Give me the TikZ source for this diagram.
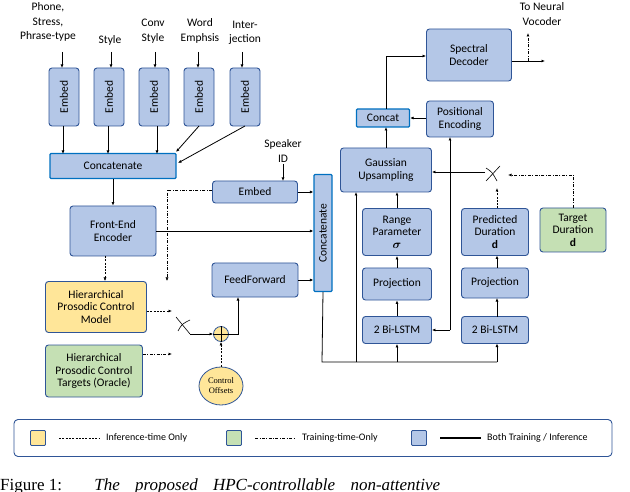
\documentclass[tikz,border=0pt]{standalone}
\usepackage{amsmath}
\usepackage{fontspec}
\setmainfont{Carlito}
\newfontfamily\capfont{Liberation Serif}
\usetikzlibrary{arrows.meta,shapes.geometric}
\definecolor{bfill}{HTML}{B4C7E7}
\definecolor{bdraw}{HTML}{2F5597}
\definecolor{cdraw}{HTML}{0070C0}
\definecolor{yfill}{HTML}{FFE699}
\definecolor{gfill}{HTML}{C5E0B4}
\begin{document}
\begin{tikzpicture}[x=1pt,y=-1pt,
  box/.style={draw=bdraw,fill=bfill,line width=0.9pt,rounded corners=3pt,align=center,inner sep=1pt,font=\fontsize{11.5}{12.5}\selectfont},
  cbox/.style={box,draw=cdraw,line width=1.2pt,rounded corners=1pt},
  ybox/.style={box,fill=yfill},
  gbox/.style={box,fill=gfill},
  lbl/.style={align=center,font=\fontsize{11.5}{14.5}\selectfont,inner sep=0pt},
  a/.style={-{Latex[length=3.5pt,width=3pt]},line width=0.8pt},
  inf/.style={a,dash pattern=on 2pt off 1.3pt},
  trn/.style={a,dash pattern=on 3pt off 1.5pt on 0.8pt off 1.5pt}]
\useasboundingbox (0,0) rectangle (630,492);
% top labels
\node[lbl] (t1) at (48,22) {Phone,\\Stress,\\Phrase-type};
\node[lbl] (t2) at (110,40) {Style};
\node[lbl] (t3) at (153,31) {Conv\\Style};
\node[lbl] (t4) at (200,31) {Word\\Emphsis};
\node[lbl] (t5) at (245,33) {Inter-\\jection};
\foreach \i/\x in {1/64,2/109,3/154,4/199,5/245}{
  \node[box,minimum width=58pt,minimum height=30pt,rotate=90] (e\i) at (\x,97) {Embed};
}
\foreach \i/\x in {1/62,2/111,3/155,4/198,5/242}{
  \draw[a] (\x,52) -- (\x,68);
}
\node[cbox,minimum width=126pt,minimum height=25pt] (cat) at (113,166) {Concatenate};
\draw[a] (63,126) -- (63,154);
\draw[a] (108,126) -- (108,154);
\draw[a] (157,126) -- (157,154);
\draw[a] (199,126) -- (176,152);
\draw[a] (245,126) -- (178,163);
\node[lbl] (spk) at (283,151) {Speaker\\ID};
\node[box,minimum width=85pt,minimum height=22pt] (emb) at (255,192) {Embed};
\draw[a] (283,164) -- (283,181);
\node[box,minimum width=86pt,minimum height=50pt] (fe) at (113,231) {Front-End\\Encoder};
\draw[a] (cat) -- (fe);
\node[cbox,minimum width=117pt,minimum height=18pt,rotate=90] (vc) at (323,233) {Concatenate};
\draw[a] (emb.east) -- (emb.east -| vc.north);
\draw[a] (fe.east) -- (fe.east -| vc.north);
\node[ybox,minimum width=101pt,minimum height=51pt] (hm) at (96,307) {Hierarchical\\Prosodic Control\\Model};
\node[gbox,minimum width=97pt,minimum height=52pt] (ht) at (94,371) {Hierarchical\\Prosodic Control\\Targets (Oracle)};
\draw[inf,line width=0.5pt] (105,256) -- (105,281);
\draw[trn,line width=0.5pt] (emb.west |- 0,190) -- (167,190) -- (167,281);
\coordinate (s1) at (172,311);
\coordinate (s2) at (172,354);
\draw[inf] (hm.east |- s1) -- (s1);
\draw[trn] (ht.east |- s2) -- (s2);
% switch left
\draw[line width=0.6pt] (176,317) -- (190,334);
\draw[line width=0.6pt] (190,320) .. controls (182,324) .. (178,331);
\node[draw=bdraw,fill=yfill,circle,minimum size=15pt,inner sep=0pt,line width=0.8pt] (plus) at (221,334) {};
\draw[line width=0.7pt] (plus.north) -- (plus.south) (plus.west) -- (plus.east);
\draw[a] (190,334) -- (plus.west);
\node[ellipse,draw=bdraw,fill=yfill,minimum width=44pt,minimum height=38pt,inner sep=0pt,align=center,line width=0.8pt,font=\capfont\fontsize{8.5}{10}\selectfont] (co) at (221,386) {Control\\Offsets};
\draw[inf] (co.north) -- (plus.south);
\node[box,minimum width=86pt,minimum height=34pt] (ff) at (255,280) {FeedForward};
\draw[a] (plus.east) -- (238,334) -- (238,297);
\draw[a] (ff.east) -- (ff.east -| vc.north);
% right side
\node[box,minimum width=69pt,minimum height=27pt] (bl1) at (397,330) {2 Bi-LSTM};
\node[box,minimum width=69pt,minimum height=32pt] (pr1) at (397,284) {Projection};
\node[box,minimum width=69pt,minimum height=47pt] (rp) at (397,232) {Range\\Parameter\\$\boldsymbol{\sigma}$};
\node[box,minimum width=67pt,minimum height=27pt] (bl2) at (495,330) {2 Bi-LSTM};
\node[box,minimum width=67pt,minimum height=30pt] (pr2) at (495,283) {Projection};
\node[box,minimum width=67pt,minimum height=47pt] (pd) at (495,232) {Predicted\\Duration\\\textbf{d}};
\node[gbox,minimum width=66pt,minimum height=44pt] (td) at (573,230) {Target\\Duration\\\textbf{d}};
\node[box,minimum width=91pt,minimum height=44pt] (gu) at (386,170) {Gaussian\\Upsampling};
\node[cbox,minimum width=53pt,minimum height=18pt] (cc) at (383,118) {Concat};
\node[box,minimum width=67pt,minimum height=36pt] (pe) at (460,119) {Positional\\Encoding};
\node[box,minimum width=85pt,minimum height=52pt] (sd) at (469,55) {Spectral\\Decoder};
\node[lbl] (tv) at (542,14) {To Neural\\Vocoder};
\coordinate (out) at (545,61);
\coordinate (up) at (528,33);
\draw[a] (sd.east |- out) -- (out);
\draw[trn] (528,61) -- (up);
\draw[a] (386,148) -- (386,127);
\draw[a] (386,109) -- (386,56) -- (sd.west |- 0,56);
\draw[a] (pe.west |- cc.east) -- (cc.east);
% bottom bus
\coordinate (bus) at (322,362);
\draw[line width=0.8pt] (vc.west) -- (bus) -- (497,362);
\draw[a] (397,362) -- (bl1.south);
\draw[a] (497,362) -- (497,343.5);
\draw[a] (356,362) -- (356,192);
\draw[a] (bl1) -- (pr1);
\draw[a] (pr1) -- (rp);
\draw[a] (rp.north) -- (397,192);
\draw[a] (497,316.5) -- (497,298);
\draw[a] (497,268) -- (497,255.5);
\coordinate (j) at (450,330);
\draw[a] (j) -- (450,137);
\draw[a] (j) -- (bl1.east);
% right switch
\draw[line width=0.6pt] (486,181) -- (500,166);
\draw[line width=0.6pt] (486,168) .. controls (492,172) .. (497,181);
\draw[a] (485,172) -- (gu.east |- 0,172);
\draw[inf] (497,208.5) -- (497,188);
\draw[trn] (td.north) -- (573,175) -- (508,175);
% legend
\node[draw=bdraw,line width=0.9pt,rounded corners=4pt,minimum width=598pt,minimum height=37pt] (leg) at (313,438) {};
\node[ybox,minimum size=15pt,rounded corners=1pt] (ly) at (38,438) {};
\node[gbox,minimum size=15pt,rounded corners=1pt] (lg) at (234,438) {};
\node[box,minimum size=15pt,rounded corners=1pt] (lb) at (419,438) {};
\draw[dash pattern=on 2pt off 1.3pt,line width=0.5pt] (59,438) -- (99,438);
\draw[dash pattern=on 3pt off 1.5pt on 0.8pt off 1.5pt,line width=0.8pt] (255,438) -- (295,438);
\draw[line width=1.1pt] (440,438) -- (481,438);
\node[lbl,anchor=west,font=\fontsize{10}{11}\selectfont] (l1) at (106,438) {Inference-time Only};
\node[lbl,anchor=west,font=\fontsize{10}{11}\selectfont] (l2) at (302,438) {Training-time-Only};
\node[lbl,anchor=west,font=\fontsize{10}{11}\selectfont] (l3) at (487,438) {Both Training / Inference};
\node[anchor=base west,inner sep=0pt,font=\capfont\fontsize{17}{19}\selectfont] (cap) at (0,490) {Figure 1:\hspace{1.9em}\itshape The\hspace{0.9em}proposed\hspace{0.9em}HPC-controllable\hspace{0.9em}non-attentive};
\end{tikzpicture}
\end{document}
